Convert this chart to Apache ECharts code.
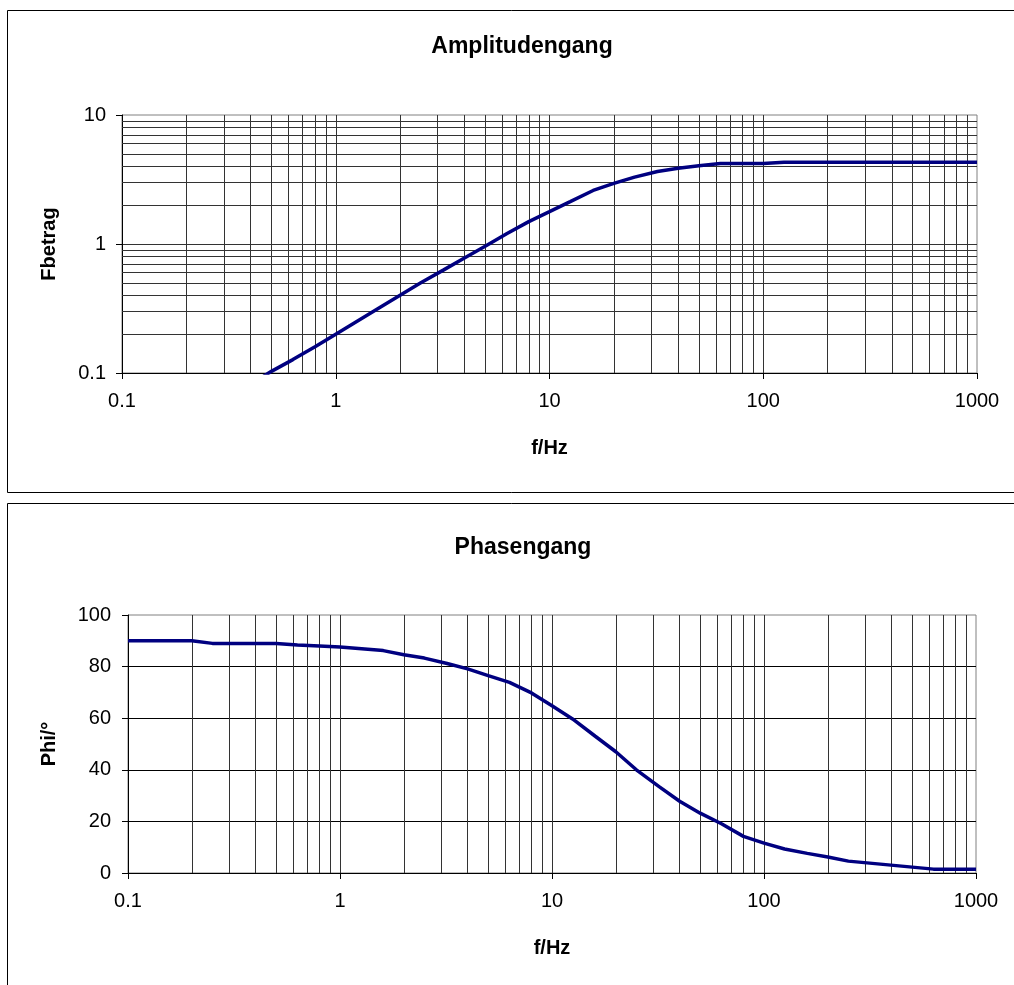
<!DOCTYPE html>
<html>
<head>
<meta charset="utf-8">
<script src="https://cdn.jsdelivr.net/npm/echarts@6/dist/echarts.min.js"></script>
<style>html,body{margin:0;padding:0;background:#fff}#c{width:1014px;height:985px}</style>
</head>
<body>
<div id="c"></div>
<script>
// ---- data ----
const freq = [0.1, 0.2, 0.25, 0.5, 0.63, 0.8, 1, 1.6, 2, 2.5, 3.2, 4, 5, 6.3, 8, 10, 12.5, 16, 20, 25, 32, 40, 50, 63, 80, 100, 125, 160, 200, 250, 630, 1000];
const amplitude = [0.02, 0.04, 0.05, 0.103, 0.127, 0.16, 0.2, 0.32, 0.4, 0.5, 0.63, 0.78, 0.96, 1.2, 1.49, 1.78, 2.13, 2.6, 2.95, 3.3, 3.65, 3.87, 4.05, 4.2, 4.2, 4.2, 4.3, 4.3, 4.3, 4.3, 4.3, 4.3];
const phase = [90, 90, 89, 89, 88.4, 88, 87.6, 86.2, 84.6, 83.3, 81.2, 79.1, 76.5, 73.9, 69.8, 64.8, 59.7, 53, 47, 40, 33.5, 27.8, 23.2, 19.1, 14.2, 11.6, 9.3, 7.6, 6.2, 4.6, 1.5, 1.5];
const xDecades = [0.1, 1, 10, 100, 1000];
const yDecadesAmp = [0.1, 1, 10];
const phaseTicks = [0, 20, 40, 60, 80, 100];

// minor log grid positions (2..9 within each decade)
function minorLog(decades) {
  const out = [];
  for (let i = 0; i < decades.length - 1; i++) {
    for (let m = 2; m <= 9; m++) out.push(parseFloat((decades[i] * m).toPrecision(6)));
  }
  return out;
}
const xMinor = minorLog(xDecades);
const yMinorAmp = minorLog(yDecadesAmp);

const FONT = '"Liberation Sans", Arial, sans-serif';
const GRID_COLOR = '#333';
const fmt = v => String(parseFloat(Number(v).toPrecision(6)));

const chart = echarts.init(document.getElementById('c'), null, {renderer: 'canvas'});

const baseX = (gridIndex) => ({
  type: 'log', logBase: 10, gridIndex,
  min: xDecades[0], max: xDecades[xDecades.length - 1],
  name: 'f/Hz', nameLocation: 'middle', nameGap: 65,
  nameTextStyle: {fontFamily: FONT, fontSize: 20, fontWeight: 'bold', color: '#000'},
  axisLine: {show: true, onZero: false, lineStyle: {color: '#000', width: 1}},
  axisTick: {show: true, inside: false, length: 6, lineStyle: {color: '#000'}},
  axisLabel: {margin: 18, fontFamily: FONT, fontSize: 20, color: '#000', formatter: fmt},
  splitLine: {show: true, showMinLine: false, showMaxLine: false, lineStyle: {color: GRID_COLOR, width: 1}},
  minorTick: {show: false}, minorSplitLine: {show: false}
});

const vLines = xMinor.map(v => ({xAxis: v}));
const hLinesAmp = yMinorAmp.map(v => ({yAxis: v}));

const option = {
  animation: false,
  backgroundColor: '#fff',
  title: [
    {text: 'Amplitudengang', left: 517, top: 30, textAlign: 'center',
     textStyle: {fontFamily: FONT, fontSize: 23, fontWeight: 'bold', color: '#000'}},
    {text: 'Phasengang', left: 518, top: 531, textAlign: 'center',
     textStyle: {fontFamily: FONT, fontSize: 23, fontWeight: 'bold', color: '#000'}}
  ],
  graphic: [
    {type: 'rect', z: -10, shape: {x: 7.5, y: 10.5, width: 1100, height: 482}, style: {fill: '#fff', stroke: '#000', lineWidth: 1}},
    {type: 'rect', z: -10, shape: {x: 7.5, y: 503.5, width: 1100, height: 600}, style: {fill: '#fff', stroke: '#000', lineWidth: 1}}
  ],
  grid: [
    {left: 122, top: 115, width: 855, height: 258, show: true, borderColor: '#808080', borderWidth: 1, backgroundColor: 'transparent'},
    {left: 128, top: 615, width: 848, height: 258, show: true, borderColor: '#808080', borderWidth: 1, backgroundColor: 'transparent'}
  ],
  xAxis: [baseX(0), baseX(1)],
  yAxis: [
    {type: 'log', logBase: 10, gridIndex: 0, min: yDecadesAmp[0], max: yDecadesAmp[yDecadesAmp.length - 1],
     name: 'Fbetrag', nameLocation: 'middle', nameGap: 63, nameRotate: 90,
     nameTextStyle: {fontFamily: FONT, fontSize: 20, fontWeight: 'bold', color: '#000'},
     axisLine: {show: true, onZero: false, lineStyle: {color: '#000', width: 1}},
     axisTick: {show: true, length: 6, lineStyle: {color: '#000'}},
     axisLabel: {margin: 16, fontFamily: FONT, fontSize: 20, color: '#000', formatter: fmt},
     splitLine: {show: true, showMinLine: false, showMaxLine: false, lineStyle: {color: GRID_COLOR, width: 1}}},
    {type: 'value', gridIndex: 1, min: phaseTicks[0], max: phaseTicks[phaseTicks.length - 1], interval: 20,
     name: 'Phi/°', nameLocation: 'middle', nameGap: 69, nameRotate: 90,
     nameTextStyle: {fontFamily: FONT, fontSize: 20, fontWeight: 'bold', color: '#000'},
     axisLine: {show: true, onZero: false, lineStyle: {color: '#000', width: 1}},
     axisTick: {show: true, length: 6, lineStyle: {color: '#000'}},
     axisLabel: {margin: 17, fontFamily: FONT, fontSize: 20, color: '#000'},
     splitLine: {show: true, showMinLine: false, showMaxLine: false, lineStyle: {color: '#000', width: 1}}}
  ],
  series: [
    {type: 'line', xAxisIndex: 0, yAxisIndex: 0, z: 1, silent: true, showSymbol: false,
     data: freq.map((f, i) => [f, amplitude[i]]), lineStyle: {opacity: 0},
     markLine: {silent: true, symbol: 'none', label: {show: false}, animation: false,
       lineStyle: {color: GRID_COLOR, width: 1, type: 'solid'}, emphasis: {disabled: true},
       data: vLines.concat(hLinesAmp)}},
    {type: 'line', xAxisIndex: 1, yAxisIndex: 1, z: 1, silent: true, showSymbol: false,
     data: freq.map((f, i) => [f, phase[i]]), lineStyle: {opacity: 0},
     markLine: {silent: true, symbol: 'none', label: {show: false}, animation: false,
       lineStyle: {color: GRID_COLOR, width: 1, type: 'solid'}, emphasis: {disabled: true},
       data: vLines}},
    {name: 'Amplitudengang', type: 'line', xAxisIndex: 0, yAxisIndex: 0, z: 5, clip: true,
     showSymbol: false, symbol: 'none', smooth: false,
     lineStyle: {color: '#000080', width: 3.5}, data: freq.map((f, i) => [f, amplitude[i]])},
    {name: 'Phasengang', type: 'line', xAxisIndex: 1, yAxisIndex: 1, z: 5, clip: true,
     showSymbol: false, symbol: 'none', smooth: false,
     lineStyle: {color: '#000080', width: 3.5}, data: freq.map((f, i) => [f, phase[i]])}
  ]
};
chart.setOption(option);
</script>
</body>
</html>
